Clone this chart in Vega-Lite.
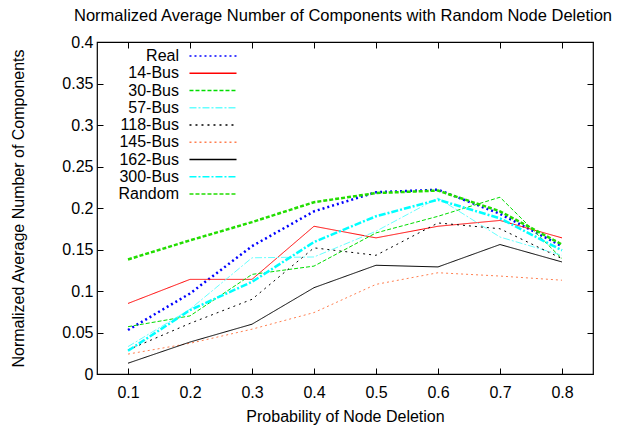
{
  "$schema": "https://vega.github.io/schema/vega-lite/v6.json",
  "width": 496,
  "height": 332,
  "autosize": "none",
  "padding": {"left": 97, "top": 42, "right": 35, "bottom": 52},
  "config": {
    "font": "Liberation Sans",
    "view": {"stroke": "#000", "strokeWidth": 1.2},
    "axis": {"grid": false, "domain": false, "tickColor": "#000", "tickSize": -6, "labelColor": "#000", "titleColor": "#000", "labelFontSize": 16, "titleFontSize": 16, "titleFontWeight": "normal", "labelFont": "Liberation Sans", "titleFont": "Liberation Sans"}
  },
  "title": {"text": "Normalized Average Number of Components with Random Node Deletion", "fontSize": 16.5, "fontWeight": "normal", "font": "Liberation Sans", "color": "#000", "offset": 10, "anchor": "middle", "dx": -2},
  "data": {"values": [
    {"p":0.1,"s":"Real","v":0.053},{"p":0.2,"s":"Real","v":0.097},{"p":0.3,"s":"Real","v":0.154},{"p":0.4,"s":"Real","v":0.196},{"p":0.5,"s":"Real","v":0.219},{"p":0.6,"s":"Real","v":0.222},{"p":0.7,"s":"Real","v":0.193},{"p":0.8,"s":"Real","v":0.154},
    {"p":0.1,"s":"14-Bus","v":0.085},{"p":0.2,"s":"14-Bus","v":0.114},{"p":0.3,"s":"14-Bus","v":0.114},{"p":0.4,"s":"14-Bus","v":0.178},{"p":0.5,"s":"14-Bus","v":0.164},{"p":0.6,"s":"14-Bus","v":0.178},{"p":0.7,"s":"14-Bus","v":0.185},{"p":0.8,"s":"14-Bus","v":0.164},
    {"p":0.1,"s":"30-Bus","v":0.057},{"p":0.2,"s":"30-Bus","v":0.070},{"p":0.3,"s":"30-Bus","v":0.120},{"p":0.4,"s":"30-Bus","v":0.130},{"p":0.5,"s":"30-Bus","v":0.170},{"p":0.6,"s":"30-Bus","v":0.190},{"p":0.7,"s":"30-Bus","v":0.213},{"p":0.8,"s":"30-Bus","v":0.139},
    {"p":0.1,"s":"57-Bus","v":0.033},{"p":0.2,"s":"57-Bus","v":0.078},{"p":0.3,"s":"57-Bus","v":0.140},{"p":0.4,"s":"57-Bus","v":0.141},{"p":0.5,"s":"57-Bus","v":0.172},{"p":0.6,"s":"57-Bus","v":0.212},{"p":0.7,"s":"57-Bus","v":0.165},{"p":0.8,"s":"57-Bus","v":0.143},
    {"p":0.1,"s":"118-Bus","v":0.029},{"p":0.2,"s":"118-Bus","v":0.061},{"p":0.3,"s":"118-Bus","v":0.090},{"p":0.4,"s":"118-Bus","v":0.152},{"p":0.5,"s":"118-Bus","v":0.143},{"p":0.6,"s":"118-Bus","v":0.182},{"p":0.7,"s":"118-Bus","v":0.175},{"p":0.8,"s":"118-Bus","v":0.139},
    {"p":0.1,"s":"145-Bus","v":0.024},{"p":0.2,"s":"145-Bus","v":0.037},{"p":0.3,"s":"145-Bus","v":0.054},{"p":0.4,"s":"145-Bus","v":0.074},{"p":0.5,"s":"145-Bus","v":0.108},{"p":0.6,"s":"145-Bus","v":0.122},{"p":0.7,"s":"145-Bus","v":0.118},{"p":0.8,"s":"145-Bus","v":0.113},
    {"p":0.1,"s":"162-Bus","v":0.013},{"p":0.2,"s":"162-Bus","v":0.0385},{"p":0.3,"s":"162-Bus","v":0.060},{"p":0.4,"s":"162-Bus","v":0.104},{"p":0.5,"s":"162-Bus","v":0.131},{"p":0.6,"s":"162-Bus","v":0.129},{"p":0.7,"s":"162-Bus","v":0.156},{"p":0.8,"s":"162-Bus","v":0.135},
    {"p":0.1,"s":"300-Bus","v":0.028},{"p":0.2,"s":"300-Bus","v":0.077},{"p":0.3,"s":"300-Bus","v":0.111},{"p":0.4,"s":"300-Bus","v":0.159},{"p":0.5,"s":"300-Bus","v":0.190},{"p":0.6,"s":"300-Bus","v":0.210},{"p":0.7,"s":"300-Bus","v":0.1875},{"p":0.8,"s":"300-Bus","v":0.149},
    {"p":0.1,"s":"Random","v":0.138},{"p":0.2,"s":"Random","v":0.161},{"p":0.3,"s":"Random","v":0.183},{"p":0.4,"s":"Random","v":0.207},{"p":0.5,"s":"Random","v":0.218},{"p":0.6,"s":"Random","v":0.221},{"p":0.7,"s":"Random","v":0.196},{"p":0.8,"s":"Random","v":0.156}
  ]},
  "resolve": {"axis": {"x": "independent", "y": "independent"}},
  "layer": [
    {
      "mark": {"type": "line", "strokeCap": "butt"},
      "encoding": {
        "x": {"field": "p", "type": "quantitative", "scale": {"domain": [0.05, 0.85], "nice": false, "zero": false},
              "axis": {"values": [0.1,0.2,0.3,0.4,0.5,0.6,0.7,0.8], "format": ".1f", "title": "Probability of Node Deletion", "labelPadding": 16, "titlePadding": 8}},
        "y": {"field": "v", "type": "quantitative", "scale": {"domain": [0, 0.4], "nice": false},
              "axis": {"values": [0,0.05,0.1,0.15,0.2,0.25,0.3,0.35,0.4], "format": "~g", "title": "Normalized Average Number of Components", "labelPadding": 10, "titlePadding": 35}},
        "color": {"field": "s", "type": "nominal", "title": null,
                  "scale": {"domain": ["Real","14-Bus","30-Bus","57-Bus","118-Bus","145-Bus","162-Bus","300-Bus","Random"],
                            "range": ["#0000ff","#ff0000","#00dd00","#66ffff","#000000","#ff7f50","#000000","#00ffff","#22dd00"]},
                  "legend": {"orient": "none", "legendX": 108, "legendY": 6, "padding": 0, "symbolType": "M-3.36,0H3.36", "symbolSize": 196, "labelFontSize": 16, "labelAlign": "right", "labelOffset": -42, "rowPadding": 1.25, "labelColor": "#000", "symbolStrokeWidth": 1.5}},
        "strokeDash": {"field": "s", "type": "nominal",
                  "scale": {"domain": ["Real","14-Bus","30-Bus","57-Bus","118-Bus","145-Bus","162-Bus","300-Bus","Random"],
                            "range": [[2,3],[1,0],[4,2],[7,2,2,2],[2,4],[2,3],[1,0],[7,2,2,2],[4,2]]}},
        "strokeWidth": {"condition": {"test": "indexof(['Real','300-Bus','Random'], datum.s) >= 0", "value": 2.5}, "value": 1}
      }
    },
    {
      "mark": {"type": "point", "opacity": 0},
      "encoding": {
        "x": {"field": "p", "type": "quantitative", "axis": {"orient": "top", "values": [0.1,0.2,0.3,0.4,0.5,0.6,0.7,0.8], "labels": false, "title": null}},
        "y": {"field": "v", "type": "quantitative", "axis": {"orient": "right", "values": [0,0.05,0.1,0.15,0.2,0.25,0.3,0.35,0.4], "labels": false, "title": null}}
      }
    }
  ]
}
